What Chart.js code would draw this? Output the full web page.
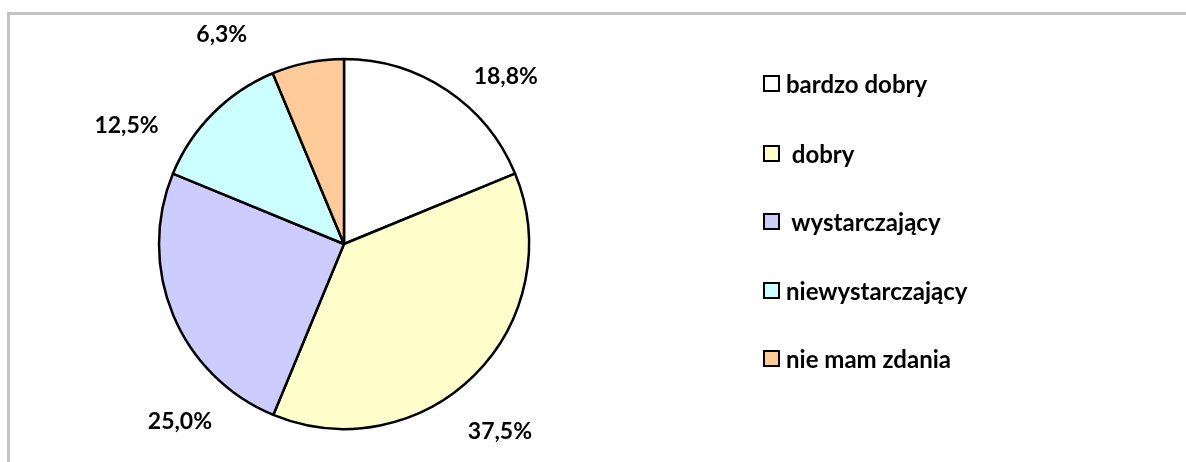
<!DOCTYPE html>
<html lang="pl">
<head>
<meta charset="utf-8">
<script src="https://cdn.jsdelivr.net/npm/chart.js@4"></script>
<style>
  html, body { margin: 0; padding: 0; background: #fff; overflow: hidden; }
  .wrap { position: relative; width: 1186px; height: 462px; overflow: hidden; }
  .frame {
    position: absolute; left: 7px; top: 12px; width: 1300px; height: 600px;
    border-top: 3px solid #c4c4c4; border-left: 3px solid #c4c4c4;
  }
  canvas { position: absolute; left: 0; top: 0; }
  .legend { position: absolute; left: 763px; top: 0; margin: 0; padding: 0; list-style: none; }
  .legend__item {
    position: absolute; left: 0; height: 26px; line-height: 26px; white-space: pre;
    font: bold 24px Lato, sans-serif; color: #000; display: flex; align-items: center;
  }
  .legend__box {
    display: inline-block; width: 13px; height: 13px; border: 2px solid #000;
    margin-right: 6px; flex: none;
  }
</style>
</head>
<body>
<div class="wrap">
  <div class="frame"></div>
  <canvas id="js-pie" width="1186" height="462"></canvas>
  <ul class="legend" id="js-legend"></ul>
</div>
<script>
'use strict'

const labels = ['bardzo dobry', ' dobry', ' wystarczający', 'niewystarczający', 'nie mam zdania']
const percents = [18.8, 37.5, 25.0, 12.5, 6.3]
const sliceColors = ['#ffffff', '#ffffcc', '#ccccff', '#ccffff', '#ffcc99']

// legend rows (center y)
const legendRows = [83, 153, 221, 290, 358]

const htmlLegendPlugin = {
  id: 'htmlLegend',
  afterUpdate(chart, args, options) {
    const ul = document.getElementById(options.containerID)
    while (ul.firstChild) ul.firstChild.remove()

    const items = chart.options.plugins.legend.labels.generateLabels(chart)
    items.forEach((item, i) => {
      const li = document.createElement('li')
      li.classList.add('legend__item')
      li.style.top = (legendRows[i] - 13) + 'px'

      const box = document.createElement('span')
      box.classList.add('legend__box')
      box.style.background = item.fillStyle

      li.appendChild(box)
      li.appendChild(document.createTextNode(item.text))
      ul.appendChild(li)
    })
  }
}

// percent labels outside the pie, Excel "best fit" style
const outsideLabelPlugin = {
  id: 'outsideLabels',
  afterDatasetsDraw(chart, args, options) {
    const ctx = chart.ctx
    const meta = chart.getDatasetMeta(0)
    ctx.save()
    ctx.fillStyle = '#000'
    ctx.font = 'bold 23px Lato, sans-serif'
    ctx.textAlign = 'center'
    ctx.textBaseline = 'middle'
    meta.data.forEach((arc, i) => {
      const { x, y, startAngle, endAngle, outerRadius } = arc.getProps(['x', 'y', 'startAngle', 'endAngle', 'outerRadius'], true)
      const mid = (startAngle + endAngle) / 2
      const dist = outerRadius * options.distance
      const nudge = options.nudge[i] || [0, 0]
      const text = chart.data.datasets[0].data[i].toFixed(1).replace('.', ',') + '%'
      ctx.fillText(text, x + Math.cos(mid) * dist + nudge[0], y + Math.sin(mid) * dist + nudge[1])
    })
    ctx.restore()
  }
}

new Chart(document.getElementById('js-pie'), {
  type: 'pie',
  data: {
    labels: labels,
    datasets: [{
      data: percents,
      backgroundColor: sliceColors,
      borderColor: '#000',
      borderWidth: 2.5,
    }]
  },
  options: {
    responsive: false,
    animation: false,
    radius: 185,
    layout: { padding: { left: 0, right: 498, top: 26, bottom: 0 } },
    plugins: {
      legend: { display: false },
      tooltip: { enabled: false },
      htmlLegend: { containerID: 'js-legend' },
      outsideLabels: {
        distance: 1.3,
        nudge: [[28, 32], [-14, 17], [58, 85], [-47, 51], [-75, 26]]
      }
    }
  },
  plugins: [htmlLegendPlugin, outsideLabelPlugin]
})
</script>
</body>
</html>
